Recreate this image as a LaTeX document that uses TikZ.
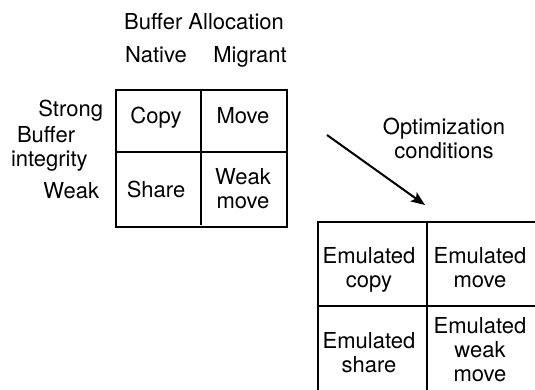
\documentclass[tikz,border=0pt]{standalone}
\usepackage{fontspec}
\setmainfont{TeX Gyre Heros}
\usetikzlibrary{arrows.meta}
\newcommand{\mlines}[1]{\begin{tabular}[t]{@{}c@{}}#1\end{tabular}}
\begin{document}
\begin{tikzpicture}[x=1pt,y=-1pt,
  every node/.style={inner sep=0pt, outer sep=0pt, font=\fontsize{22}{24}\selectfont},
  txt/.style={anchor=base},
  txtl/.style={anchor=base west},
  txtr/.style={anchor=base east},
  gridline/.style={line width=2pt, line cap=rect},
  conn/.style={line width=2pt, -{Stealth[length=14pt,width=11pt,inset=3pt]}}]
\clip (0,0) rectangle (535,390);
\fill[white] (0,0) rectangle (535,390);
% left grid
\draw[gridline] (116,90) rectangle (287,227);
\draw[gridline] (116,152) -- (287,152);
\draw[gridline] (201,90) -- (201,224);
% right grid (runs off the page)
\draw[gridline] (318,400) -- (318,222) -- (545,222);
\draw[gridline] (318,306) -- (545,306);
\draw[gridline] (427,222) -- (427,400);
% headings
\node[txt] (alloc) at (204,30) {Buffer Allocation};
\node[txt] (native) at (156,62.5) {Native};
\node[txt] (migrant) at (250,62.5) {Migrant};
\node[txtr] (strong) at (103,117) {Strong};
\node[txtl] (buffer) at (17,143) {Buffer};
\node[txtl] (integrity) at (11,167) {integrity};
\node[txtr] (weak) at (99,198) {Weak};
% left cells
\node[txt] (copy) at (156,124) {Copy};
\node[txt] (move) at (243,124) {Move};
\node[txt] (share) at (156,197) {Share};
\node[txt] (weakmove) at (243,185) {\mlines{Weak\\move}};
% arrow
\node[txt] (opt) at (444,135) {\mlines{Optimization\\conditions}};
\coordinate (tail) at (327,135);
\coordinate (tip) at (425,205);
\draw[conn] (tail) -- (tip);
% right cells
\node[txt] (ecopy) at (369,263) {\mlines{Emulated\\copy}};
\node[txt] (emove) at (480,263) {\mlines{Emulated\\move}};
\node[txt] (eshare) at (369,348) {\mlines{Emulated\\share}};
\node[txt] (eweak) at (480,333) {\mlines{Emulated\\weak\\move}};
\end{tikzpicture}
\end{document}
